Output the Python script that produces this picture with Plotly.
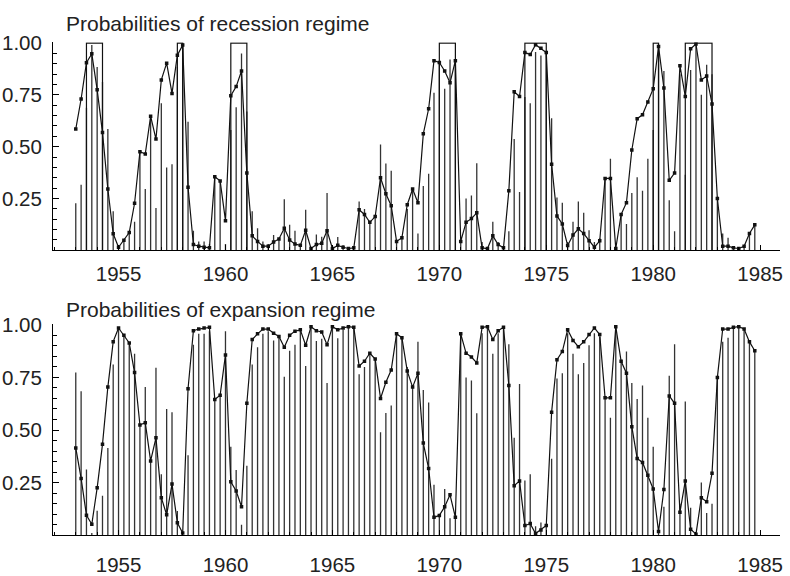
import plotly.graph_objects as go

# ---------------- data ----------------
first_quarter = 1953.0
n_quarters = 128
quarters = [first_quarter + i / 4 for i in range(n_quarters)]

# filtered probabilities of the recession regime (spikes)
rec_filtered = [
    0.227, 0.316, 0.688, 0.99, 0.884, 0.812, 0.585, 0.189, 0.01, 0.053,
    0.09, 0.138, 0.48, 0.296, 0.64, 0.204, 0.71, 0.40, 0.415, 0.885,
    1.0, 0.62, 0.095, 0.043, 0.043, 0.03, 0.35, 0.33, 0.03, 0.58,
    0.69, 0.95, 0.67, 0.189, 0.107, 0.043, 0.03, 0.074, 0.05, 0.247,
    0.123, 0.095, 0.03, 0.196, 0.01, 0.077, 0.066, 0.276, 0.01, 0.064,
    0.024, 0.005, 0.01, 0.235, 0.2, 0.132, 0.16, 0.511, 0.419, 0.384,
    0.04, 0.06, 0.2, 0.3, 0.081, 0.31, 0.369, 0.76, 0.9, 0.78,
    0.92, 0.92, 0.04, 0.25, 0.265, 0.42, 0.04, 0.01, 0.138, 0.04,
    0.01, 0.092, 0.537, 0.281, 0.74, 0.71, 0.957, 0.94, 0.95, 0.637,
    0.255, 0.23, 0.04, 0.138, 0.235, 0.181, 0.097, 0.04, 0.058, 0.347,
    0.442, 0.01, 0.17, 0.127, 0.276, 0.353, 0.288, 0.442, 0.58, 0.98,
    0.865, 0.242, 0.092, 0.85, 0.365, 0.87, 0.99, 0.75, 0.895, 0.85,
    0.25, 0.081, 0.061, 0.02, 0.01, 0.02, 0.08, 0.123,
]

# smoothed probabilities of the recession regime (line with dots)
rec_smoothed = [
    0.585, 0.73, 0.905, 0.948, 0.775, 0.568, 0.296, 0.08, 0.015, 0.049,
    0.086, 0.227, 0.476, 0.465, 0.647, 0.537, 0.822, 0.903, 0.757, 0.941,
    0.99, 0.304, 0.028, 0.02, 0.015, 0.012, 0.355, 0.335, 0.143, 0.746,
    0.79, 0.865, 0.373, 0.07, 0.043, 0.02, 0.02, 0.04, 0.055, 0.107,
    0.05, 0.03, 0.024, 0.097, 0.009, 0.028, 0.034, 0.095, 0.009, 0.024,
    0.015, 0.009, 0.012, 0.196, 0.173, 0.135, 0.163, 0.35, 0.273, 0.215,
    0.043, 0.061, 0.22, 0.296, 0.23, 0.562, 0.683, 0.915, 0.906, 0.865,
    0.808, 0.915, 0.043, 0.135, 0.153, 0.181, 0.012, 0.009, 0.07, 0.028,
    0.012, 0.288, 0.765, 0.742, 0.954, 0.945, 0.992, 0.975, 0.954, 0.415,
    0.166, 0.127, 0.023, 0.074, 0.104, 0.081, 0.046, 0.015, 0.046, 0.347,
    0.347, 0.009, 0.173, 0.23, 0.484, 0.635, 0.654, 0.715, 0.78, 0.983,
    0.783, 0.338, 0.373, 0.891, 0.742, 0.972, 0.995, 0.822, 0.841, 0.706,
    0.25, 0.02, 0.02, 0.012, 0.009, 0.02, 0.081, 0.123,
]

# filtered probabilities of the expansion regime (spikes)
exp_filtered = [
    0.773, 0.684, 0.312, 0.01, 0.116, 0.188, 0.415, 0.811, 0.99, 0.947,
    0.91, 0.862, 0.52, 0.704, 0.36, 0.796, 0.29, 0.60, 0.585, 0.115,
    0.0, 0.38, 0.905, 0.957, 0.957, 0.97, 0.65, 0.67, 0.97, 0.42,
    0.31, 0.05, 0.33, 0.811, 0.893, 0.957, 0.97, 0.926, 0.95, 0.753,
    0.877, 0.905, 0.97, 0.804, 0.99, 0.923, 0.934, 0.724, 0.99, 0.936,
    0.976, 0.995, 0.99, 0.765, 0.8, 0.868, 0.84, 0.489, 0.581, 0.616,
    0.96, 0.94, 0.8, 0.7, 0.919, 0.69, 0.631, 0.24, 0.1, 0.22,
    0.08, 0.08, 0.96, 0.75, 0.735, 0.58, 0.96, 0.99, 0.862, 0.96,
    0.99, 0.908, 0.463, 0.719, 0.26, 0.29, 0.043, 0.06, 0.05, 0.363,
    0.745, 0.77, 0.96, 0.862, 0.765, 0.819, 0.903, 0.96, 0.942, 0.653,
    0.558, 0.99, 0.83, 0.873, 0.724, 0.647, 0.712, 0.558, 0.42, 0.02,
    0.135, 0.758, 0.908, 0.15, 0.635, 0.13, 0.01, 0.25, 0.105, 0.15,
    0.75, 0.919, 0.939, 0.98, 0.99, 0.98, 0.92, 0.877,
]

# smoothed probabilities of the expansion regime (line with dots)
exp_smoothed = [
    0.415, 0.27, 0.095, 0.052, 0.225, 0.432, 0.704, 0.92, 0.985, 0.951,
    0.914, 0.773, 0.524, 0.535, 0.353, 0.463, 0.178, 0.097, 0.243, 0.059,
    0.01, 0.696, 0.972, 0.98, 0.985, 0.988, 0.645, 0.665, 0.857, 0.254,
    0.21, 0.135, 0.627, 0.93, 0.957, 0.98, 0.98, 0.96, 0.945, 0.893,
    0.95, 0.97, 0.976, 0.903, 0.991, 0.972, 0.966, 0.905, 0.991, 0.976,
    0.985, 0.991, 0.988, 0.804, 0.827, 0.865, 0.837, 0.65, 0.727, 0.785,
    0.957, 0.939, 0.78, 0.704, 0.77, 0.438, 0.317, 0.085, 0.094, 0.135,
    0.192, 0.085, 0.957, 0.865, 0.847, 0.819, 0.988, 0.991, 0.93, 0.972,
    0.988, 0.712, 0.235, 0.258, 0.046, 0.055, 0.008, 0.025, 0.046, 0.585,
    0.834, 0.873, 0.977, 0.926, 0.896, 0.919, 0.954, 0.985, 0.954, 0.653,
    0.653, 0.991, 0.827, 0.77, 0.516, 0.365, 0.346, 0.285, 0.22, 0.017,
    0.217, 0.662, 0.627, 0.109, 0.258, 0.028, 0.005, 0.178, 0.159, 0.294,
    0.75, 0.98, 0.98, 0.988, 0.991, 0.98, 0.919, 0.877,
]

# NBER recession dating (start, end) drawn as boxes of height 1
nber_start = [1953.5, 1957.75, 1960.25, 1970.0, 1974.0, 1980.0, 1981.5]
nber_end = [1954.25, 1958.0, 1961.0, 1970.75, 1975.0, 1980.25, 1982.75]

year_ticks = [1955, 1960, 1965, 1970, 1975, 1980, 1985]
prob_ticks = [0.25, 0.50, 0.75, 1.00]
prob_labels = ["0.25", "0.50", "0.75", "1.00"]

titles = ["Probabilities of recession regime", "Probabilities of expansion regime"]

# ---------------- helpers ----------------
def spikes(xs, vs):
    px, py = [], []
    for x, v in zip(xs, vs):
        px += [x, x, None]
        py += [0, v, None]
    return px, py


def boxes(starts, ends):
    px, py = [], []
    for a, b in zip(starts, ends):
        px += [a, a, b, b, None]
        py += [0, 1, 1, 0, None]
    return px, py


W, H = 790, 576
FONT = "Liberation Sans, Arial, Helvetica, sans-serif"

fig = go.Figure()

spike_col = "#333333"
line_col = "#111111"

# top panel
sx, sy = spikes(quarters, rec_filtered)
fig.add_trace(go.Scatter(x=sx, y=sy, mode="lines", line=dict(color=spike_col, width=1.3),
                         xaxis="x", yaxis="y", hoverinfo="skip"))
bx, by = boxes(nber_start, nber_end)
fig.add_trace(go.Scatter(x=bx, y=by, mode="lines", line=dict(color=line_col, width=1.2),
                         xaxis="x", yaxis="y", hoverinfo="skip"))
fig.add_trace(go.Scatter(x=quarters, y=rec_smoothed, mode="lines+markers",
                         line=dict(color=line_col, width=1.2),
                         marker=dict(symbol="square", size=3.5, color=line_col),
                         xaxis="x", yaxis="y"))

# bottom panel
sx, sy = spikes(quarters, exp_filtered)
fig.add_trace(go.Scatter(x=sx, y=sy, mode="lines", line=dict(color=spike_col, width=1.3),
                         xaxis="x2", yaxis="y2", hoverinfo="skip"))
fig.add_trace(go.Scatter(x=quarters, y=exp_smoothed, mode="lines+markers",
                         line=dict(color=line_col, width=1.2),
                         marker=dict(symbol="square", size=3.5, color=line_col),
                         xaxis="x2", yaxis="y2"))

# pixel geometry
x_left, x_right = 53.3, 783.0
top_y1, top_y0 = 32.5, 249.3
bot_y1, bot_y0 = 326.0, 546.0


def dom_x(a, b):
    return [a / W, b / W]


def dom_y(top, bottom):
    return [1 - bottom / H, 1 - top / H]


def xaxis_style(standoff):
    return dict(
        range=[1951.94, 1985.93], tickvals=year_ticks, ticks="inside", ticklen=5,
        tickcolor="black", tickwidth=1, showline=True, linecolor="black", linewidth=1.2,
        showgrid=False, zeroline=False, tickfont=dict(size=20.5, color="#222", family=FONT),
        minor=dict(dtick=1, ticks="inside", ticklen=3, tickcolor="black", showgrid=False),
        ticklabelstandoff=standoff, fixedrange=True,
    )


yaxis_common = dict(
    range=[0, 1.004], tickvals=prob_ticks, ticktext=prob_labels, ticks="inside", ticklen=6,
    tickcolor="black", tickwidth=1, showline=True, linecolor="black", linewidth=1.2,
    showgrid=False, zeroline=False, tickfont=dict(size=20.5, color="#222", family=FONT),
    minor=dict(tickvals=[round(0.05 * k, 2) for k in range(1, 20)], ticks="inside",
               ticklen=4, tickcolor="black", showgrid=False),
    ticklabelstandoff=6, fixedrange=True,
)

fig.update_layout(
    width=W, height=H, margin=dict(l=0, r=0, t=0, b=0),
    paper_bgcolor="white", plot_bgcolor="white", showlegend=False,
    font=dict(family=FONT, color="#222"),
    xaxis=dict(domain=dom_x(x_left, x_right), anchor="y", **xaxis_style(5)),
    yaxis=dict(domain=dom_y(top_y1, top_y0), anchor="x", **yaxis_common),
    xaxis2=dict(domain=dom_x(x_left, x_right), anchor="y2", **xaxis_style(11)),
    yaxis2=dict(domain=dom_y(bot_y1, bot_y0), anchor="x2", **yaxis_common),
    annotations=[
        dict(text=titles[0], x=64 / W, y=1 - 12.5 / H, xref="paper", yref="paper",
             xanchor="left", yanchor="middle", showarrow=False,
             font=dict(size=21, color="#222", family=FONT)),
        dict(text=titles[1], x=64 / W, y=1 - 311 / H, xref="paper", yref="paper",
             xanchor="left", yanchor="middle", showarrow=False,
             font=dict(size=21, color="#222", family=FONT)),
    ],
)

fig.write_html("out.html")
